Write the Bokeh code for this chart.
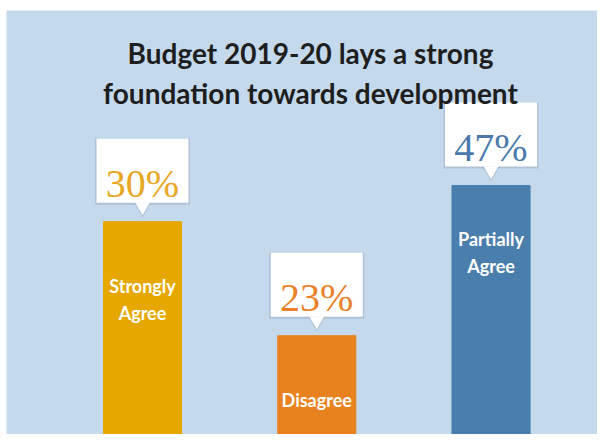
from bokeh.plotting import figure
from bokeh.models import Range1d, Label, ColumnDataSource
from bokeh.embed import file_html
from bokeh.resources import INLINE

# ---- data ----
categories = ["Strongly\nAgree", "Disagree", "Partially\nAgree"]
percent_values = [30, 23, 47]
percent_labels = ["30%", "23%", "47%"]
# drawn bar heights (percent of chart height; the infographic is not to scale)
bar_heights = [50.2, 23.3, 58.7]
title_lines = ["Budget 2019-20 lays a strong", "foundation towards development"]

# ---- styles ----
bar_colors = ["#e6a700", "#e8821f", "#4a7eac"]
text_colors = ["#e8a622", "#e8822a", "#4a7aac"]
label_offsets_px = [78, 64, 67]

W, H = 597, 434
FRAME_H = H - 10
PX = 100.0 / FRAME_H  # one pixel in y data units

xs = list(range(len(categories)))

p = figure(width=W, height=H, output_backend="svg", toolbar_location=None,
           x_range=Range1d(-0.7805, 2.611), y_range=Range1d(0, 100),
           min_border=0, min_border_left=6, min_border_right=0,
           min_border_top=10, min_border_bottom=0)
p.axis.visible = False
p.grid.visible = False
p.outline_line_color = None
p.background_fill_color = "#c5d9ed"
p.border_fill_color = "white"

src = ColumnDataSource(dict(
    x=xs, top=bar_heights, color=bar_colors, tcolor=text_colors,
    cat=categories, pct=percent_labels,
    box_y=[h + 51 * PX for h in bar_heights],
    shadow_y=[h + 50 * PX for h in bar_heights],
    tri_y=[h + 15 * PX for h in bar_heights],
    tri_sy=[h + 14 * PX for h in bar_heights],
    lab_y=[h - o * PX for h, o in zip(bar_heights, label_offsets_px)],
))

p.vbar(x="x", top="top", bottom=-5, width=0.448, color="color", source=src)

# callout shadow
p.rect(x="x", y="shadow_y", width=95, height=66, width_units="screen", height_units="screen",
       fill_color="#7d8fa5", fill_alpha=0.3, line_color=None, source=src)
p.scatter(x="x", y="tri_sy", marker="inverted_triangle", size=17,
          fill_color="#7d8fa5", fill_alpha=0.3, line_color=None, source=src)
# callout box
p.rect(x="x", y="box_y", width=92, height=64, width_units="screen", height_units="screen",
       fill_color="white", line_color=None, source=src)
p.scatter(x="x", y="tri_y", marker="inverted_triangle", size=15,
          fill_color="white", line_color=None, source=src)

p.text(x="x", y="box_y", text="pct", text_color="tcolor", source=src,
       text_font={"value": "Liberation Serif"}, text_font_size="40px",
       text_align="center", text_baseline="alphabetic", y_offset=13)

p.text(x="x", y="lab_y", text="cat", text_color="white", source=src,
       text_font={"value": "Lato"}, text_font_style="bold", text_font_size="18px",
       text_align="center", text_baseline="middle", text_line_height=1.2)

for line, base in zip(title_lines, [89.86, 80.5]):
    p.add_layout(Label(x=0.964, y=base, text=line,
                       text_font="Lato", text_font_style="bold", text_font_size="28px",
                       text_color="#1e1e1e", text_align="center",
                       text_baseline="alphabetic"))

open("out.html", "w").write(file_html(p, INLINE))
